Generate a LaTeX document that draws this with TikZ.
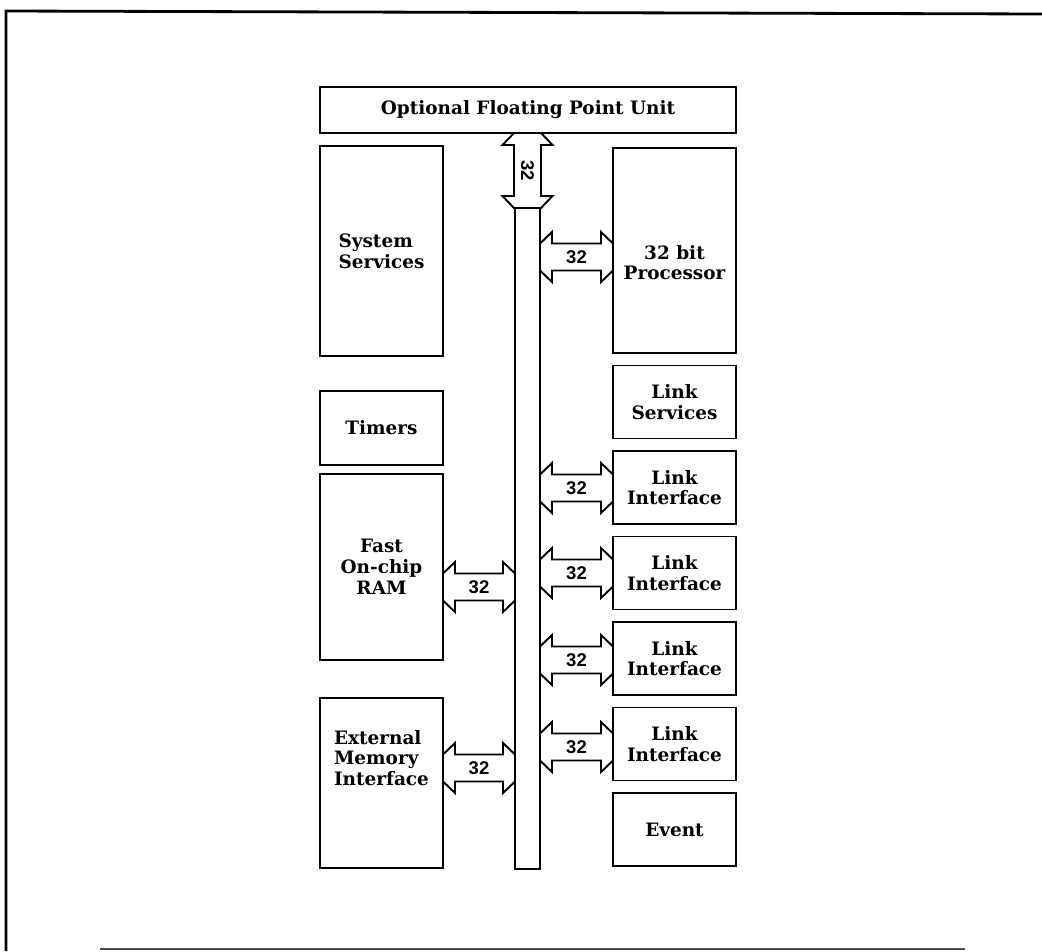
\documentclass[tikz,border=0pt]{standalone}
\usepackage{fontspec}
\setmainfont{DejaVu Serif}
\newfontfamily\numfont{Liberation Sans}
\usetikzlibrary{positioning, calc}

\def\headlen{0.24cm}
\def\headhalf{0.5cm}
\def\shafthalf{0.27cm}

\tikzstyle{block} = [rectangle, 
draw=black, 
line width=1.1pt, 
outer sep=0pt, 
minimum width=2.46cm, 
text centered, 
align=center, 
inner sep=0pt, 
font=\bfseries\fontsize{10.5}{11.8}\selectfont]
\tikzstyle{caption} = [align=center, 
inner sep=0pt, 
font=\bfseries\fontsize{10.5}{11.8}\selectfont]
\tikzstyle{link} = [draw=black, line width=1.1pt, fill=white, line join=miter]
\tikzstyle{num} = [inner sep=0pt, font=\numfont\bfseries\fontsize{10.5}{12}\selectfont]
\tikzstyle{frame} = [line width=1.6pt]

% horizontal 32 bit path: left side, right side, height, label name
\newcommand{\busarrow}[4]{%
  \draw [link] let \p1=(#1), \p2=(#2) in
    (\x1,#3+\shafthalf) -- (\x1+\headlen,#3+\headhalf) -- (\x1+\headlen,#3+\shafthalf)
    -- (\x2-\headlen,#3+\shafthalf) -- (\x2-\headlen,#3+\headhalf) -- (\x2,#3+\shafthalf)
    -- (\x2,#3-\shafthalf) -- (\x2-\headlen,#3-\headhalf) -- (\x2-\headlen,#3-\shafthalf)
    -- (\x1+\headlen,#3-\shafthalf) -- (\x1+\headlen,#3-\headhalf) -- (\x1,#3-\shafthalf) -- cycle
    node (#4) [num] at ({(\x1+\x2)/2},#3) {32};}

% vertical 32 bit path: upper side, lower side, label name
\newcommand{\busarrowv}[3]{%
  \draw [link] let \p1=(#1), \p2=(#2) in
    (\x2+\shafthalf,\y1) -- (\x2+\headhalf,\y1-\headlen) -- (\x2+\shafthalf,\y1-\headlen)
    -- (\x2+\shafthalf,\y2+\headlen) -- (\x2+\headhalf,\y2+\headlen) -- (\x2+\shafthalf,\y2)
    -- (\x2-\shafthalf,\y2) -- (\x2-\headhalf,\y2+\headlen) -- (\x2-\shafthalf,\y2+\headlen)
    -- (\x2-\shafthalf,\y1-\headlen) -- (\x2-\headhalf,\y1-\headlen) -- (\x2-\shafthalf,\y1) -- cycle
    node (#3) [num, rotate=-90] at (\x2,{(\y1+\y2)/2}) {32};}

\begin{document}
\begin{tikzpicture}[node distance=0.25cm]
        \useasboundingbox (0,0) rectangle (20.84,-19.02);

        % --- Marco ---
        \draw [frame] (0.12,-19.02) -- (0.12,-0.22) -- (20.84,-0.28);
        \draw [frame, line width=0.8pt, black!70] (2,-18.98) -- (19.3,-18.98);

        % --- Bloques ---
        \node (fpu) [block, minimum width=8.32cm, minimum height=0.92cm] at (10.56,-2.2) {Optional Floating Point Unit};
        \node (bus) [block, minimum width=0.5cm, minimum height=13.22cm] at (10.55,-10.77) {};

        \node (sys) [block, minimum height=4.2cm, below right=0.26cm and 0cm of fpu.south west, align=left] {System\\Services};
        \node (timers) [block, minimum height=1.48cm, below=0.7cm of sys] {Timers};
        \node (ram) [block, minimum height=3.72cm, below=0.18cm of timers] {Fast\\On-chip\\RAM};
        \node (ext) [block, minimum height=3.4cm, below=0.76cm of ram] {};
        \node (extname) [caption, align=left] at ([yshift=0.5cm]ext.center) {External\\Memory\\Interface};

        \node (proc) [block, minimum height=4.1cm, below left=0.3cm and 0cm of fpu.south east] {};
        \node (procname) [caption] at ([yshift=-0.24cm]proc.center) {32 bit\\Processor};
        \node (lsvc) [block, minimum height=1.46cm, below=of proc] {Link\\Services};
        \node (li1) [block, minimum height=1.46cm, below=of lsvc] {Link\\Interface};
        \node (li2) [block, minimum height=1.46cm, below=of li1] {Link\\Interface};
        \node (li3) [block, minimum height=1.46cm, below=of li2] {Link\\Interface};
        \node (li4) [block, minimum height=1.46cm, below=of li3] {Link\\Interface};
        \node (event) [block, minimum height=1.46cm, below=of li4] {Event};

        % --- Conexiones al bus ---
        \busarrowv{fpu.south}{bus.north}{w0}
        \busarrow{bus.east}{proc.west}{-5.14cm}{w1}
        \busarrow{bus.east}{li1.west}{-9.76cm}{w2}
        \busarrow{bus.east}{li2.west}{-11.46cm}{w3}
        \busarrow{bus.east}{li3.west}{-13.2cm}{w4}
        \busarrow{bus.east}{li4.west}{-14.94cm}{w5}
        \busarrow{ram.east}{bus.west}{-11.74cm}{w6}
        \busarrow{ext.east}{bus.west}{-15.36cm}{w7}

    \end{tikzpicture}
\end{document}
